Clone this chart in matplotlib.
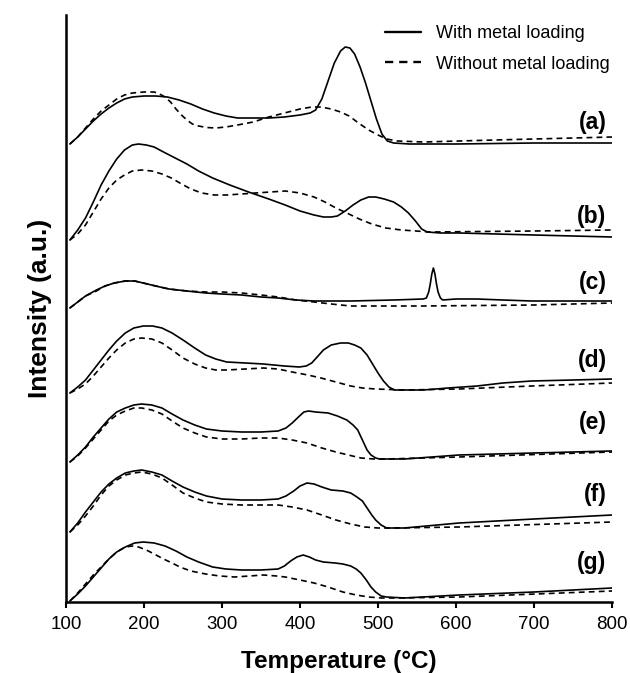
import matplotlib
matplotlib.use("Agg")
import matplotlib.pyplot as plt

plt.rcParams['font.family'] = ['Liberation Sans', 'DejaVu Sans']

# ---- data (temperature in °C, intensity in a.u. relative to each trace's baseline) ----
labels = ["(a)", "(b)", "(c)", "(d)", "(e)", "(f)", "(g)"]
offsets = [455, 360, 290, 205, 140, 70, 0]

a_with_T = [105, 115, 125, 135, 145, 155, 165, 175, 185, 200, 215, 230, 245, 260, 275, 290, 305, 320, 340, 360, 380, 400, 413, 420, 428, 436, 444, 452, 458, 464, 470, 477, 484, 491, 498, 505, 512, 520, 540, 600, 700, 800]
a_with_I = [3, 10, 18, 26, 33, 39, 44, 48, 50, 51, 51, 50, 47, 43, 38, 34, 31, 29, 29, 29, 30, 32, 34, 37, 48, 66, 84, 96, 100, 99, 93, 80, 64, 46, 28, 13, 6, 4, 3, 3, 4, 4]
a_wo_T = [105, 115, 125, 135, 145, 155, 165, 175, 185, 200, 213, 220, 227, 234, 241, 248, 255, 262, 270, 280, 292, 305, 320, 340, 360, 380, 400, 415, 427, 440, 452, 463, 475, 488, 500, 511, 525, 558, 650, 800]
a_wo_I = [3, 10, 19, 28, 36, 42, 48, 52, 54, 55, 55, 53, 50, 45, 38, 32, 27, 23, 21, 19.5, 19, 20, 22, 25, 30, 34, 38, 40, 40, 38, 35, 31, 24, 17, 12, 8, 6, 5, 7, 10]

b_with_T = [105, 115, 125, 135, 145, 155, 165, 175, 185, 193, 203, 213, 225, 240, 255, 270, 288, 310, 334, 360, 381, 400, 418, 430, 440, 448, 458, 468, 478, 488, 497, 508, 520, 530, 539, 548, 556, 563, 580, 604, 700, 800]
b_with_I = [2, 12, 24, 40, 57, 71, 83, 92, 97, 98, 97, 95, 90, 84, 78, 71, 64, 57, 50, 43, 37, 31, 27, 25, 25, 26, 31, 37, 42, 45, 45, 43, 40, 35, 29, 21, 13, 10, 9, 9, 7, 5]
b_wo_T = [105, 115, 125, 135, 145, 155, 165, 175, 185, 197, 210, 223, 235, 246, 260, 274, 290, 306, 325, 343, 362, 381, 400, 418, 432, 446, 460, 476, 492, 510, 530, 567, 700, 800]
b_wo_I = [2, 8, 17, 30, 43, 54, 62, 67, 71, 72, 71, 68, 64, 59, 53, 49, 47, 47, 48, 49, 50, 51, 49, 45, 40, 34, 29, 23, 18, 14, 12, 10, 11, 12]

c_with_T = [105, 115, 125, 139, 150, 162, 176, 188, 199, 215, 232, 255, 279, 300, 325, 350, 372, 395, 418, 465, 520, 558, 562, 565, 567, 569, 571, 573, 575, 577, 580, 583, 600, 627, 660, 697, 800]
c_with_I = [4, 10, 16, 22, 26, 29, 31, 31, 29, 26, 23, 21, 19, 18, 17, 15, 14, 12, 11, 11, 12, 13, 14, 20, 28, 38, 44, 38, 28, 20, 14, 12, 13, 13, 12, 11, 11]
c_wo_T = [105, 115, 125, 139, 150, 162, 176, 188, 199, 215, 232, 255, 279, 300, 325, 350, 372, 395, 418, 440, 465, 558, 700, 800]
c_wo_I = [4, 10, 16, 21, 26, 29, 31, 31, 29, 26, 23, 21, 20, 20, 19, 17, 15, 12, 10, 8, 6, 6, 7, 9]

d_with_T = [105, 115, 125, 135, 145, 155, 165, 176, 187, 199, 211, 223, 236, 250, 265, 279, 292, 306, 330, 353, 380, 399, 408, 415, 422, 430, 440, 452, 462, 470, 478, 486, 493, 500, 507, 514, 521, 540, 558, 590, 627, 660, 697, 750, 800]
d_with_I = [4, 10, 17, 27, 37, 47, 56, 64, 69, 71, 71, 69, 64, 57, 49, 42, 38, 35, 34, 33, 31, 30, 31, 34, 40, 47, 52, 54, 54, 52, 49, 42, 33, 24, 16, 10, 7, 7, 7, 9, 11, 14, 16, 17, 18]
d_wo_T = [105, 115, 125, 135, 145, 155, 165, 176, 187, 197, 210, 223, 236, 250, 265, 279, 292, 306, 330, 353, 372, 390, 410, 427, 446, 465, 480, 497, 534, 604, 697, 800]
d_wo_I = [4, 8, 13, 21, 30, 39, 47, 54, 58, 59, 58, 54, 47, 39, 33, 29, 27, 27, 28, 29, 28, 25, 22, 19, 15, 11, 9, 8, 7, 8, 11, 14]

e_with_T = [105, 115, 125, 135, 145, 155, 165, 176, 187, 197, 210, 223, 236, 250, 265, 280, 300, 325, 350, 372, 382, 390, 398, 405, 411, 420, 436, 448, 460, 468, 474, 480, 486, 491, 497, 502, 534, 604, 700, 800]
e_with_I = [0, 7, 15, 25, 34, 43, 50, 54, 57, 58, 57, 54, 48, 42, 37, 33, 31, 30, 30, 31, 34, 39, 45, 50, 51, 50, 49, 46, 42, 37, 32, 22, 12, 7, 4, 3, 3, 7, 9, 11]
e_wo_T = [105, 115, 125, 135, 145, 155, 165, 176, 187, 197, 210, 223, 236, 250, 265, 280, 300, 325, 350, 372, 390, 409, 428, 446, 462, 478, 495, 511, 604, 800]
e_wo_I = [0, 6, 14, 23, 32, 41, 47, 51, 54, 54, 52, 48, 41, 34, 29, 25, 23, 23, 24, 24, 22, 19, 14, 10, 7, 4, 3, 3, 5, 10]

f_with_T = [105, 115, 125, 135, 145, 155, 165, 176, 187, 197, 210, 223, 236, 250, 265, 280, 300, 325, 350, 372, 382, 392, 400, 409, 418, 428, 440, 455, 465, 473, 480, 486, 492, 497, 504, 511, 534, 604, 700, 800]
f_with_I = [0, 9, 20, 30, 40, 48, 54, 59, 61, 62, 60, 57, 51, 45, 40, 36, 33, 32, 32, 33, 36, 41, 46, 49, 48, 45, 42, 41, 39, 35, 31, 24, 17, 12, 7, 4, 4, 9, 13, 17]
f_wo_T = [105, 115, 125, 135, 145, 155, 165, 176, 187, 197, 210, 223, 236, 250, 265, 280, 300, 325, 350, 372, 390, 409, 428, 446, 465, 483, 500, 520, 604, 800]
f_wo_I = [0, 7, 16, 26, 37, 46, 52, 57, 59, 60, 58, 54, 47, 39, 34, 30, 28, 27, 27, 27, 25, 22, 17, 12, 8, 5, 4, 4, 5, 10]

g_with_T = [105, 115, 125, 135, 145, 155, 165, 176, 188, 199, 213, 227, 241, 255, 270, 288, 305, 325, 350, 372, 380, 388, 396, 404, 412, 420, 430, 445, 455, 465, 472, 478, 485, 491, 497, 504, 511, 534, 604, 700, 800]
g_with_I = [1, 8, 16, 25, 34, 43, 50, 55, 59, 60, 59, 56, 51, 45, 40, 35, 33, 32, 32, 33, 36, 41, 45, 47, 45, 42, 40, 39, 38, 36, 33, 29, 22, 15, 10, 6, 5, 4, 7, 10, 14]
g_wo_T = [105, 115, 125, 135, 145, 155, 165, 176, 185, 193, 203, 213, 225, 236, 246, 260, 279, 297, 316, 335, 353, 370, 381, 400, 418, 436, 455, 472, 488, 505, 520, 604, 800]
g_wo_I = [1, 9, 18, 27, 35, 43, 50, 55, 56, 55, 52, 48, 43, 39, 35, 31, 28, 26, 25, 26, 27, 26, 25, 22, 19, 15, 10, 7, 5, 4, 4, 5, 11]

with_series = [(a_with_T, a_with_I), (b_with_T, b_with_I), (c_with_T, c_with_I),
               (d_with_T, d_with_I), (e_with_T, e_with_I), (f_with_T, f_with_I),
               (g_with_T, g_with_I)]
wo_series = [(a_wo_T, a_wo_I), (b_wo_T, b_wo_I), (c_wo_T, c_wo_I),
             (d_wo_T, d_wo_I), (e_wo_T, e_wo_I), (f_wo_T, f_wo_I),
             (g_wo_T, g_wo_I)]
label_lift = [25, 25, 30, 37, 39, 37, 39]

xticks = [100, 200, 300, 400, 500, 600, 700, 800]

# ---- figure ----
fig = plt.figure(figsize=(6.30, 6.73), dpi=100)
ax = fig.add_axes([66/630, 1 - 602/673, (612 - 66)/630, (602 - 15)/673])

for i, ((tw, iw), (to, io)) in enumerate(zip(with_series, wo_series)):
    off = offsets[i]
    ax.plot(tw, [v + off for v in iw], color='black', lw=1.2, ls='-',
            label='With metal loading' if i == 0 else None,
            solid_joinstyle='round', solid_capstyle='round')
    ax.plot(to, [v + off for v in io], color='black', lw=1.2, ls=(0, (3.5, 2.5)),
            label='Without metal loading' if i == 0 else None)
    ax.text(793, off + label_lift[i], labels[i], ha='right', va='center',
            fontsize=16.5, fontweight='bold')

ax.set_xlim(100, 800)
ax.set_ylim(0, 587)
ax.set_xticks(xticks)
ax.set_yticks([])
for s in ['top', 'right']:
    ax.spines[s].set_visible(False)
for s in ['left', 'bottom']:
    ax.spines[s].set_linewidth(1.8)
ax.tick_params(axis='x', direction='out', length=4, width=1.5, labelsize=13.5, pad=6)

ax.set_xlabel('Temperature (°C)', fontsize=17.5, fontweight='bold', labelpad=12)
ax.set_ylabel('Intensity (a.u.)', fontsize=19, fontweight='bold', labelpad=10)

leg = ax.legend(loc='upper right', bbox_to_anchor=(1.01, 0.995), frameon=False,
                fontsize=13, handlelength=2.0, handletextpad=0.85, labelspacing=0.75,
                borderaxespad=0)
for ln in leg.get_lines():
    ln.set_linewidth(1.7)

fig.savefig('out.png', dpi=100)
